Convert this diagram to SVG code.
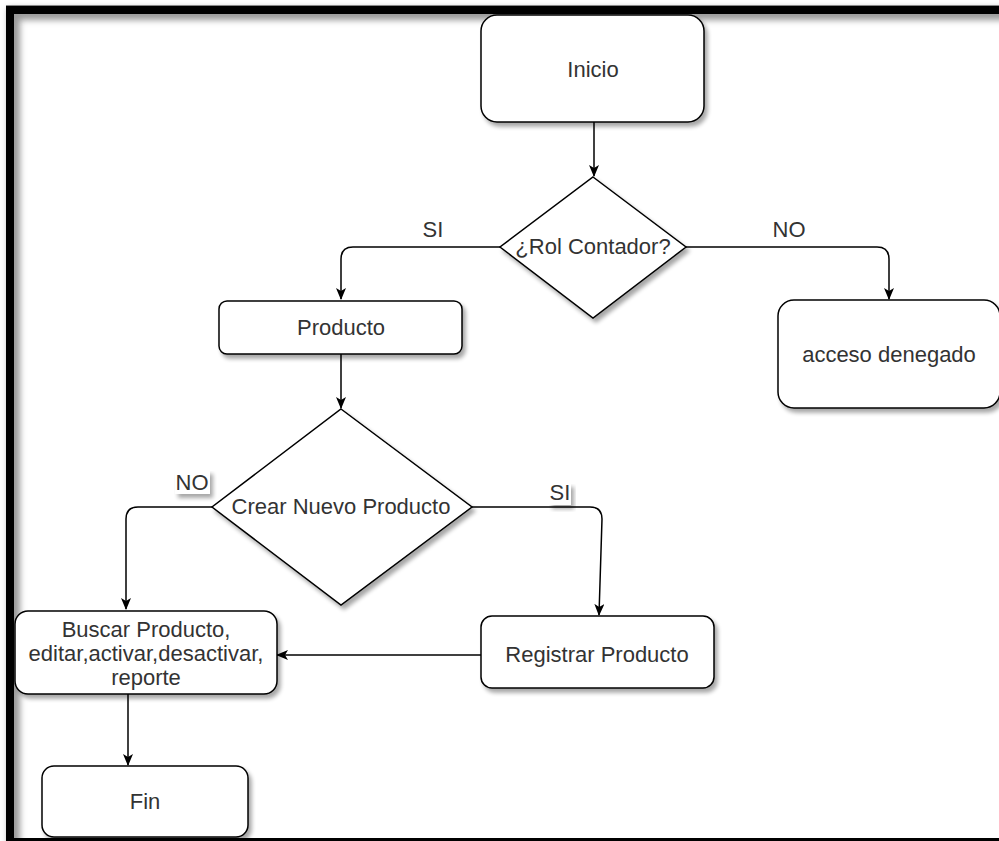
<svg xmlns="http://www.w3.org/2000/svg" width="999" height="841" viewBox="0 0 999 841">
<style>
.box{fill:#fff;stroke:#000;stroke-width:1.5;filter:url(#sh)}
.t{font-family:"Liberation Sans",Arial,sans-serif;font-size:22px;fill:#333;text-anchor:middle}
.e{fill:none;stroke:#000;stroke-width:1.5}
</style>
<defs>
<filter id="sh" x="-10%" y="-10%" width="130%" height="140%">
<feGaussianBlur in="SourceAlpha" stdDeviation="2"/>
<feOffset dx="3" dy="4" result="b"/>
<feComponentTransfer><feFuncA type="linear" slope="0.35"/></feComponentTransfer>
<feMerge><feMergeNode/><feMergeNode in="SourceGraphic"/></feMerge>
</filter>
<filter id="fsh" x="-5%" y="-5%" width="110%" height="110%">
<feGaussianBlur stdDeviation="3"/>
</filter>
<marker id="ar" viewBox="0 0 12 10" refX="11" refY="5" markerWidth="12" markerHeight="10" markerUnits="userSpaceOnUse" orient="auto">
<path d="M0,0 L12,5 L0,10 L3,5 z" fill="#000"/>
</marker>
</defs>
<rect width="999" height="841" fill="#fff"/>
<g id="frame">
<path d="M14,850 V14 H1010" fill="none" stroke="#999" stroke-width="12" filter="url(#fsh)"/>
<rect x="6" y="6" width="993" height="8" fill="#000"/>
<rect x="6" y="6" width="8" height="835" fill="#000"/>
<rect x="6" y="838" width="993" height="3" fill="#000"/>
<rect x="6" y="5" width="993" height="1" fill="#888"/>
</g>
<g id="connectors">
<path class="e" d="M594,122 V176" marker-end="url(#ar)"/>
<path class="e" d="M500,247 H353 Q341,247 341,259 V299" marker-end="url(#ar)"/>
<path class="e" d="M686,247 H877 Q889,247 889,259 V299" marker-end="url(#ar)"/>
<path class="e" d="M341,354 V408" marker-end="url(#ar)"/>
<path class="e" d="M212,507 H138 Q126,507 126,519 V609" marker-end="url(#ar)"/>
<path class="e" d="M472,507 H590 Q602,507 602,519 L599,615" marker-end="url(#ar)"/>
<path class="e" d="M481,655 H277" marker-end="url(#ar)"/>
<path class="e" d="M128,694 V765" marker-end="url(#ar)"/>
<text class="t" x="433" y="237">SI</text>
<text class="t" x="789" y="237">NO</text>
<rect x="175" y="470" width="35" height="24" fill="#fff" filter="url(#sh)"/>
<text class="t" x="192" y="490">NO</text>
<rect x="549" y="483" width="22" height="22" fill="#fff" filter="url(#sh)"/>
<text class="t" x="560" y="500">SI</text>
</g>
<g id="inicio">
<rect class="box" x="481" y="15" width="223" height="107" rx="16"/>
<text class="t" x="593" y="77">Inicio</text>
</g>
<g id="rol">
<polygon class="box" points="593,177 686,247 593,318 500,247"/>
<text class="t" x="593" y="254">¿Rol Contador?</text>
</g>
<g id="producto">
<rect class="box" x="219" y="301" width="243" height="53" rx="8"/>
<text class="t" x="341" y="335">Producto</text>
</g>
<g id="acceso">
<rect class="box" x="778" y="300" width="222" height="108" rx="16"/>
<text class="t" x="889" y="362">acceso denegado</text>
</g>
<g id="crear">
<polygon class="box" points="341,409 472,507 341,605 212,507"/>
<text class="t" x="341" y="514">Crear Nuevo Producto</text>
</g>
<g id="registrar">
<rect class="box" x="481" y="616" width="233" height="72" rx="11"/>
<text class="t" x="597" y="662">Registrar Producto</text>
</g>
<g id="buscar">
<rect class="box" x="15" y="611" width="262" height="83" rx="13"/>
<text class="t" x="146" y="637">Buscar Producto,</text>
<text class="t" x="146" y="661">editar,activar,desactivar,</text>
<text class="t" x="146" y="685">reporte</text>
</g>
<g id="fin">
<rect class="box" x="42" y="766" width="206" height="71" rx="12"/>
<text class="t" x="145" y="809">Fin</text>
</g>
</svg>
